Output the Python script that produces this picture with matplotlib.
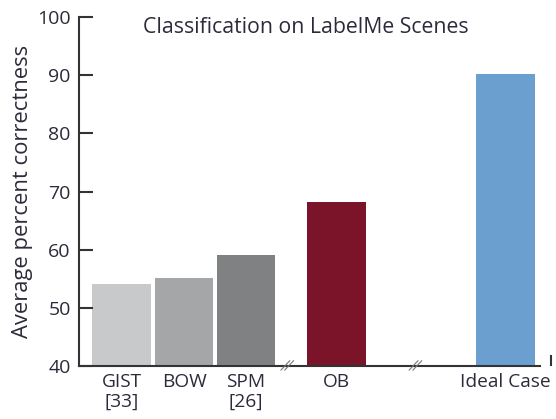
import matplotlib.pyplot as plt

methods = ["GIST\n[33]", "BOW", "SPM\n[26]", "OB", "Ideal Case"]
scores = [54.1, 55.1, 59.1, 68.2, 90.2]
colors = ["#c8c9cb", "#a5a6a8", "#808183", "#7b1428", "#6a9fcf"]
positions = [0, 1.0, 1.99, 3.44, 6.14]
yticks = [40, 50, 60, 70, 80, 90, 100]

plt.rcParams['font.family'] = ['Open Sans', 'DejaVu Sans']
txt = "#2b2b3b"

fig = plt.figure(figsize=(5.56, 4.19), dpi=100)
ax = fig.add_axes([79 / 556, 1 - 366 / 419, 469 / 556, 349 / 419])

ax.bar(positions, scores, width=0.94, color=colors, bottom=0)
ax.set_ylim(40, 100)
ax.set_xlim(-0.68, 6.82)

ax.set_yticks(yticks)
ax.set_yticklabels([str(v) for v in yticks], fontsize=14, color=txt)
ax.set_xticks(positions)
ax.set_xticklabels(methods, fontsize=13.8, color=txt, linespacing=1.15)
ax.tick_params(axis='x', length=0, pad=5)
ax.tick_params(axis='y', direction='in', length=10, width=1.5, color="#333333", pad=6)

for s in ['top', 'right']:
    ax.spines[s].set_visible(False)
ax.spines['left'].set_linewidth(1.5)
ax.spines['left'].set_color("#333333")
ax.spines['bottom'].set_visible(False)

# x axis line with end mark
ax.plot([-0.68, 6.7], [40, 40], color="#333333", lw=1.5, clip_on=False)
ax.plot([6.86, 6.86], [40.2, 41.7], color="#333333", lw=1.5, clip_on=False)

# axis break marks
for xb in [2.65, 4.7]:
    for dx in [-0.03, 0.03]:
        ax.plot([xb + dx - 0.07, xb + dx + 0.07], [39.3, 40.9], color="#777777",
                lw=0.8, clip_on=False)

ax.set_ylabel("Average percent correctness", fontsize=15.8, color=txt, labelpad=3)
ax.text(0.484, 0.971, "Classification on LabelMe Scenes", transform=ax.transAxes,
        ha='center', va='center', fontsize=15.3, color=txt)

fig.savefig("out.png", dpi=100)
